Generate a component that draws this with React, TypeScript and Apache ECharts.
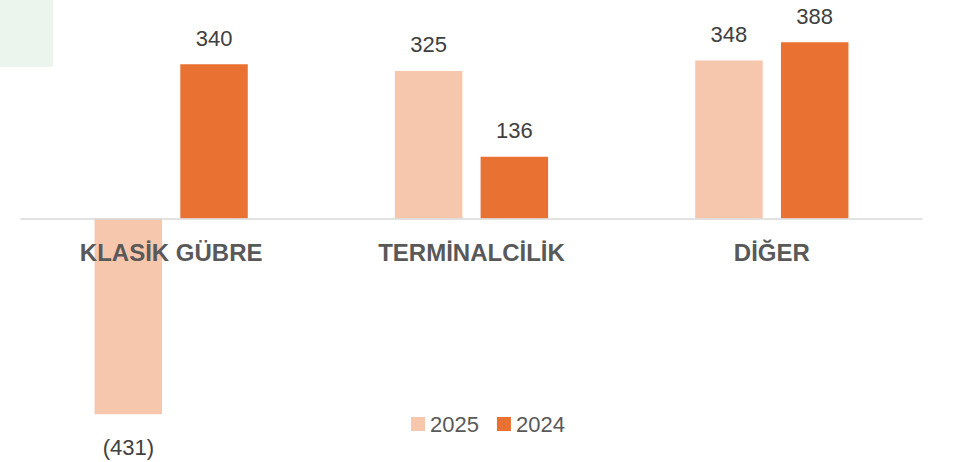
import React, { useEffect, useRef } from "react";
import * as echarts from "echarts";

const categories = ["KLASİK GÜBRE", "TERMİNALCİLİK", "DİĞER"];
const seriesNames = ["2025", "2024"];
const values2025 = [-431, 325, 348];
const values2024 = [340, 136, 388];

const colors = ["#F6C6AD", "#E97132"];

function fmt(v: number) {
  return v < 0 ? `(${Math.abs(v)})` : `${v}`;
}

function buildData(vals: number[]) {
  return vals.map((v) =>
    v < 0
      ? { value: v, label: { position: "bottom", distance: 22 } }
      : { value: v }
  );
}

export default function App() {
  const ref = useRef<HTMLDivElement>(null);
  useEffect(() => {
    document.body.style.margin = "0";
    if (!ref.current) return;
    const chart = echarts.init(ref.current, null, { renderer: "svg" });
    const labelCommon = {
      show: true,
      position: "top",
      distance: 15,
      fontSize: 22,
      fontFamily: "Liberation Sans, Arial, sans-serif",
      color: "#404040",
      formatter: (p: any) => fmt(p.value),
    };
    chart.setOption({
      animation: false,
      backgroundColor: "#ffffff",
      graphic: [
        {
          type: "rect",
          left: 0,
          top: 0,
          shape: { x: 0, y: 0, width: 53, height: 67 },
          style: { fill: "#EBF5EE" },
          z: -10,
        },
      ],
      grid: {
        left: 21,
        right: 31,
        top: 36.9,
        bottom: 243.5,
        containLabel: false,
        outerBoundsMode: "none",
      },
      legend: {
        data: seriesNames,
        left: 406,
        top: 408,
        itemWidth: 14,
        itemHeight: 14,
        itemGap: 18,
        icon: "rect",
        textStyle: {
          fontSize: 22,
          color: "#595959",
          fontFamily: "Liberation Sans, Arial, sans-serif",
        },
      },
      xAxis: {
        type: "category",
        data: categories,
        z: 10,
        axisLine: { show: true, onZero: false, lineStyle: { color: "#D9D9D9", width: 1.5 } },
        axisTick: { show: false },
        axisLabel: {
          margin: 22,
          fontSize: 24,
          fontWeight: "bold",
          color: "#595959",
          fontFamily: "Liberation Sans, Arial, sans-serif",
        },
      },
      yAxis: {
        type: "value",
        min: 0,
        max: 400,
        show: false,
        splitLine: { show: false },
      },
      series: [
        {
          name: seriesNames[0],
          type: "bar",
          data: buildData(values2025),
          barWidth: 67.5,
          barGap: "27%",
          clip: false,
          z: 1,
          itemStyle: { color: colors[0] },
          label: labelCommon,
        },
        {
          name: seriesNames[1],
          type: "bar",
          data: buildData(values2024),
          barWidth: 67.5,
          barGap: "27%",
          clip: false,
          z: 1,
          itemStyle: { color: colors[1] },
          label: labelCommon,
        },
      ],
    });
    return () => chart.dispose();
  }, []);
  return <div ref={ref} style={{ width: 953, height: 462 }} />;
}
